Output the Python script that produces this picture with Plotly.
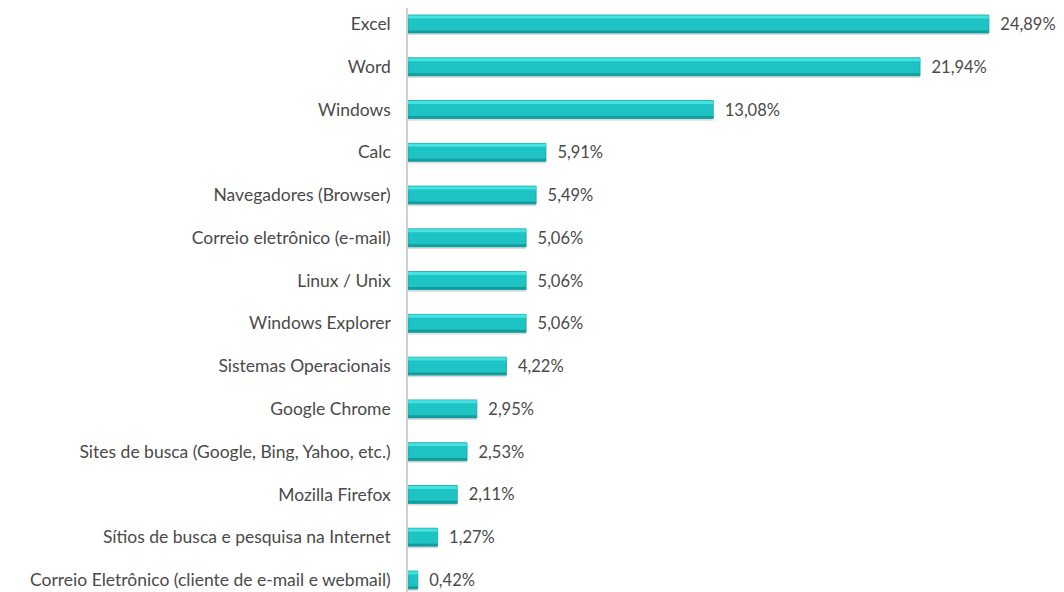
import plotly.graph_objects as go

categories = [
    "Excel", "Word", "Windows", "Calc", "Navegadores (Browser)",
    "Correio eletrônico (e-mail)", "Linux / Unix", "Windows Explorer",
    "Sistemas Operacionais", "Google Chrome",
    "Sites de busca (Google, Bing, Yahoo, etc.)", "Mozilla Firefox",
    "Sítios de busca e pesquisa na Internet",
    "Correio Eletrônico (cliente de e-mail e webmail)",
]
values = [24.89, 21.94, 13.08, 5.91, 5.49, 5.06, 5.06, 5.06, 4.22, 2.95, 2.53, 2.11, 1.27, 0.42]
labels = ["  " + f"{v:.2f}".replace(".", ",") + "%" for v in values]

FONT = "Lato, Open Sans, sans-serif"
TXT = "#4A4A4A"
fig = go.Figure()
# shadow
fig.add_trace(go.Bar(
    y=categories, x=values, orientation="h",
    marker=dict(color="rgba(120,120,120,0.25)", line=dict(width=0)),
    width=0.05, offset=0.21, hoverinfo="skip",
))
fig.add_trace(go.Bar(
    y=categories, x=values, orientation="h",
    marker=dict(color="#1EC3C3", line=dict(color="#14A3A3", width=0.8)),
    width=0.42, offset=-0.21,
    text=labels, textposition="outside", cliponaxis=False, constraintext="none",
    textfont=dict(family=FONT, size=16.5, color=TXT),
    hoverinfo="skip",
))
# top highlight
fig.add_trace(go.Bar(
    y=categories, x=values, orientation="h",
    marker=dict(color="#45E2E2", line=dict(width=0)),
    width=0.07, offset=-0.20, hoverinfo="skip",
))
# bottom darker edge
fig.add_trace(go.Bar(
    y=categories, x=values, orientation="h",
    marker=dict(color="#139C9C", line=dict(width=0)),
    width=0.06, offset=0.15, hoverinfo="skip",
))
fig.update_layout(
    width=1064, height=592,
    margin=dict(l=400, r=0, t=0, b=0),
    plot_bgcolor="white", paper_bgcolor="white",
    showlegend=False, barmode="overlay",
    font=dict(family=FONT, size=17, color=TXT),
    xaxis=dict(range=[0, 28.45], visible=False, fixedrange=True),
    yaxis=dict(
        type="category", range=[13.468, -0.374],
        showline=True, linecolor="#D0D0D0", linewidth=1.5,
        showgrid=False, ticks="", ticklabelstandoff=12,
        tickfont=dict(family=FONT, size=17.5, color=TXT),
    ),
)
fig.write_html("out.html")
